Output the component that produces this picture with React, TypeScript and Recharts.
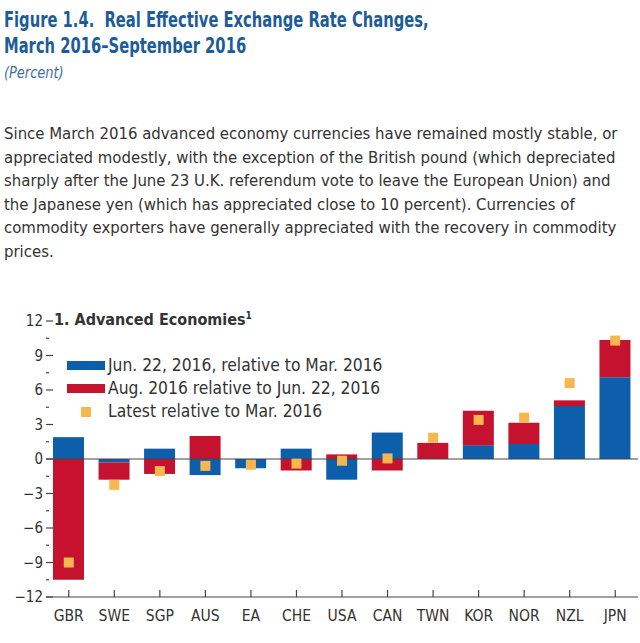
import { ComposedChart, Bar, Scatter, XAxis, YAxis, ReferenceLine } from 'recharts';

const categories = ['GBR', 'SWE', 'SGP', 'AUS', 'EA', 'CHE', 'USA', 'CAN', 'TWN', 'KOR', 'NOR', 'NZL', 'JPN'];
// Jun. 22, 2016 relative to Mar. 2016
const junVsMar = [1.9, -0.3, 0.9, -1.4, -0.8, 0.9, -1.8, 2.3, 0, 1.2, 1.3, 4.6, 7.1];
// Aug. 2016 relative to Jun. 22, 2016
const augVsJun = [-10.5, -1.5, -1.3, 2.0, 0, -1.0, 0.4, -1.0, 1.4, 3.0, 1.85, 0.5, 3.25];
// Latest relative to Mar. 2016
const latestVsMar = [-9.0, -2.25, -1.05, -0.6, -0.5, -0.4, -0.15, 0.05, 1.85, 3.4, 3.6, 6.6, 10.3];

const majorTicks = [-12, -9, -6, -3, 0, 3, 6, 9, 12];
const minorTicks = [-10.5, -7.5, -4.5, -1.5, 1.5, 4.5, 7.5, 10.5];
const allTicks = [...majorTicks, ...minorTicks].sort((a, b) => a - b);

const BLUE = '#0d5fab';
const RED = '#c4122f';
const ORANGE = '#f6b84e';
const FONT = "'DejaVu Sans Condensed', 'Liberation Sans Narrow', sans-serif";

const data = categories.map((name, i) => ({
  name,
  jun: junVsMar[i],
  aug: augVsJun[i],
  latest: latestVsMar[i],
}));

function LeftTick({ x, y, payload }: any) {
  const major = majorTicks.includes(payload.value);
  return (
    <g>
      <line x1={x} x2={x + (major ? 7 : 3)} y1={y} y2={y} stroke="#444" strokeWidth={1.2} />
      {major && (
        <text x={x - 3} y={y + 5} textAnchor="end" fontSize={15} fill="#333" fontFamily={FONT}>
          {payload.value < 0 ? `\u2212${-payload.value}` : payload.value}
        </text>
      )}
    </g>
  );
}

function RightTick({ x, y, payload }: any) {
  const major = majorTicks.includes(payload.value);
  return <line x1={x - (major ? 7 : 3)} x2={x} y1={y} y2={y} stroke="#444" strokeWidth={1.2} />;
}

function BottomTick({ x, y, payload }: any) {
  return (
    <g>
      <line x1={x} x2={x} y1={y} y2={y - 7} stroke="#444" strokeWidth={1.2} />
      <text x={x} y={y + 24} textAnchor="middle" fontSize={15.5} fill="#333" fontFamily={FONT}>
        {payload.value}
      </text>
    </g>
  );
}

function SquareMarker({ cx, cy }: any) {
  return <rect x={cx - 5} y={cy - 5} width={10} height={10} fill={ORANGE} />;
}

const bodyLines = [
  'Since March 2016 advanced economy currencies have remained mostly stable, or',
  'appreciated modestly, with the exception of the British pound (which depreciated',
  'sharply after the June 23 U.K. referendum vote to leave the European Union) and',
  'the Japanese yen (which has appreciated close to 10 percent). Currencies of',
  'commodity exporters have generally appreciated with the recovery in commodity',
  'prices.',
];

export default function App() {
  return (
    <div style={{ position: 'absolute', left: 0, top: 0, width: 640, height: 643, background: '#fff', fontFamily: FONT, overflow: 'hidden' }}>
      <div style={{ position: 'absolute', left: 4, top: 7, color: '#1d5c9b', fontWeight: 700, fontSize: 21, lineHeight: '26px', whiteSpace: 'nowrap', transform: 'scaleX(0.78)', transformOrigin: 'left top' }}>
        <div>Figure 1.4.&nbsp; Real Effective Exchange Rate Changes,</div>
        <div>March 2016–September 2016</div>
      </div>
      <div style={{ position: 'absolute', left: 4, top: 63, color: '#3f6f9f', fontStyle: 'italic', fontSize: 16, transform: 'scaleX(0.9)', transformOrigin: 'left top' }}>(Percent)</div>
      <div style={{ position: 'absolute', left: 4, top: 122, color: '#333', fontSize: 16.6, lineHeight: '23.6px', whiteSpace: 'nowrap' }}>
        {bodyLines.map((l) => (
          <div key={l}>{l}</div>
        ))}
      </div>

      <div style={{ position: 'absolute', left: 0, top: 300 }}>
        <ComposedChart width={640} height={343} data={data} stackOffset="sign" margin={{ top: 21, right: 0, bottom: 0, left: 0 }}>
          <XAxis dataKey="name" xAxisId="x" height={46} tickSize={0} tickMargin={0} tick={<BottomTick />} axisLine={{ stroke: '#444', strokeWidth: 1.2 }} interval={0} />
          <YAxis yAxisId="l" orientation="left" width={46} domain={[-12, 12]} ticks={allTicks} interval={0} tickSize={0} tickMargin={0} tick={<LeftTick />} axisLine={false} />
          <YAxis yAxisId="r" orientation="right" width={2} domain={[-12, 12]} ticks={allTicks} interval={0} tickSize={0} tickMargin={0} tick={<RightTick />} axisLine={false} />
          <Bar xAxisId="x" yAxisId="l" dataKey="jun" stackId="a" fill={BLUE} barSize={31} isAnimationActive={false} />
          <Bar xAxisId="x" yAxisId="l" dataKey="aug" stackId="a" fill={RED} barSize={31} isAnimationActive={false} />
          <ReferenceLine xAxisId="x" yAxisId="l" y={0} stroke="#444" strokeWidth={1.2} />
          <Scatter xAxisId="x" yAxisId="l" dataKey="latest" shape={<SquareMarker />} isAnimationActive={false} />
        </ComposedChart>

        <div style={{ position: 'absolute', left: 54, top: 10, fontWeight: 700, fontSize: 16, color: '#333', whiteSpace: 'nowrap' }}>
          1. Advanced Economies<sup style={{ fontSize: 10 }}>1</sup>
        </div>
        <div style={{ position: 'absolute', left: 67, top: 54, fontSize: 17.3, color: '#333', lineHeight: '23px', whiteSpace: 'nowrap' }}>
          <div style={{ display: 'flex', alignItems: 'center' }}>
            <span style={{ width: 38, height: 9, background: BLUE, marginRight: 3 }} />
            Jun. 22, 2016, relative to Mar. 2016
          </div>
          <div style={{ display: 'flex', alignItems: 'center' }}>
            <span style={{ width: 38, height: 9, background: RED, marginRight: 3 }} />
            Aug. 2016 relative to Jun. 22, 2016
          </div>
          <div style={{ display: 'flex', alignItems: 'center' }}>
            <span style={{ width: 38, display: 'flex', justifyContent: 'center', marginRight: 3 }}>
              <span style={{ width: 10, height: 10, background: ORANGE }} />
            </span>
            Latest relative to Mar. 2016
          </div>
        </div>
      </div>
    </div>
  );
}
